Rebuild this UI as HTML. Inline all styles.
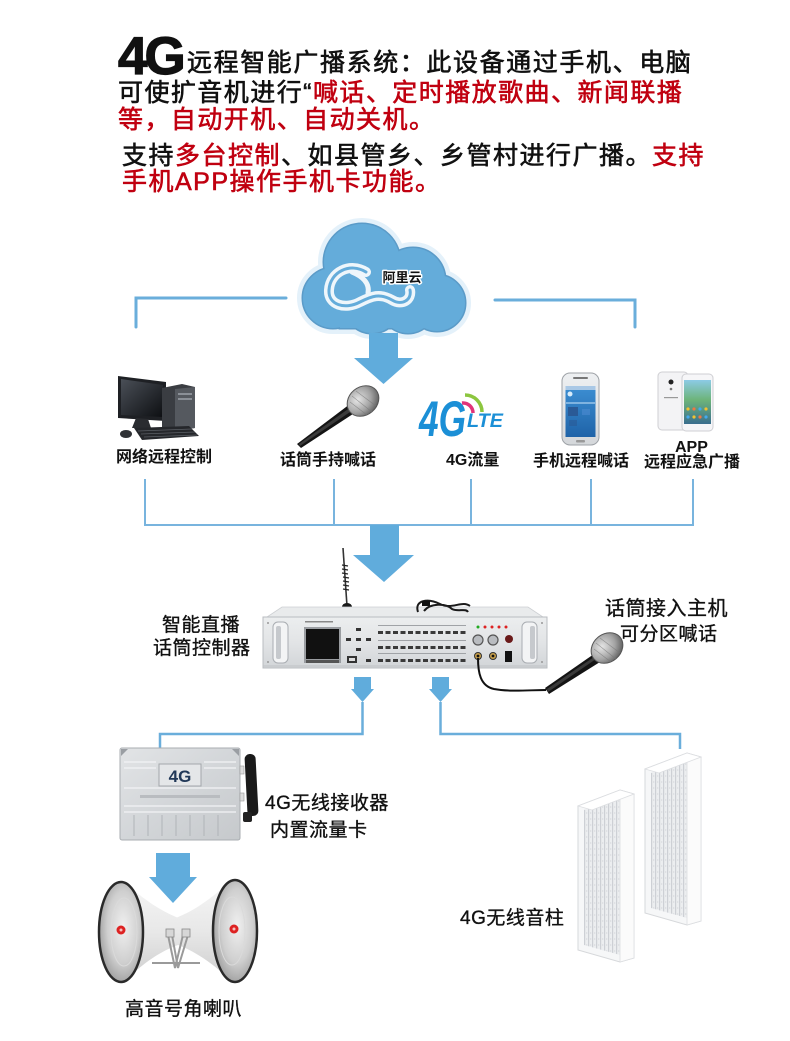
<!DOCTYPE html>
<html><head><meta charset="utf-8">
<style>
html,body{margin:0;padding:0;background:#fff;}
body{width:790px;height:1041px;position:relative;overflow:hidden;font-family:"Liberation Sans","Noto Sans CJK SC",sans-serif;}
.t{position:absolute;white-space:nowrap;color:#111;}
.top{font-size:25px;line-height:25px;-webkit-text-stroke:0.6px currentColor;}
.r{color:#c00010;}
.lb{font-size:16px;line-height:16px;font-weight:bold;color:#111;}
.md{font-size:19px;line-height:19px;letter-spacing:0.5px;color:#111;-webkit-text-stroke:0.35px #111;}
svg{position:absolute;left:0;top:0;}
</style></head><body>
<svg width="790" height="1041" viewBox="0 0 790 1041" xmlns="http://www.w3.org/2000/svg">
<defs>
  <linearGradient id="silver" x1="0" y1="0" x2="0" y2="1">
    <stop offset="0" stop-color="#eef0f2"/><stop offset="1" stop-color="#d4d7da"/>
  </linearGradient>
  <linearGradient id="panel" x1="0" y1="0" x2="0" y2="1">
    <stop offset="0" stop-color="#eceeef"/><stop offset="0.5" stop-color="#e2e4e6"/><stop offset="1" stop-color="#d2d5d8"/>
  </linearGradient>
  <linearGradient id="rcv" x1="0" y1="0" x2="1" y2="1">
    <stop offset="0" stop-color="#e2e4e6"/><stop offset="0.5" stop-color="#d3d6d9"/><stop offset="1" stop-color="#c6c9cc"/>
  </linearGradient>
  <linearGradient id="hornbody" x1="0" y1="0" x2="0" y2="1">
    <stop offset="0" stop-color="#f6f6f6"/><stop offset="0.5" stop-color="#e8e8e8"/><stop offset="1" stop-color="#cdcdcd"/>
  </linearGradient>
  <radialGradient id="mouthL" cx="0.55" cy="0.45" r="0.6">
    <stop offset="0" stop-color="#f0f0f0"/><stop offset="0.6" stop-color="#cfcfcf"/><stop offset="1" stop-color="#9a9a9a"/>
  </radialGradient>
  <radialGradient id="mhead" cx="0.4" cy="0.35" r="0.7">
    <stop offset="0" stop-color="#e6e6e6"/><stop offset="0.6" stop-color="#a3a3a3"/><stop offset="1" stop-color="#5c5c5c"/>
  </radialGradient>
  <linearGradient id="screen1" x1="0" y1="0" x2="0" y2="1">
    <stop offset="0" stop-color="#3d8fd3"/><stop offset="1" stop-color="#1f63a8"/>
  </linearGradient>
  <linearGradient id="screen2" x1="0" y1="0" x2="0" y2="1">
    <stop offset="0" stop-color="#8ccbe6"/><stop offset="0.45" stop-color="#6db47a"/><stop offset="1" stop-color="#3b6f8e"/>
  </linearGradient>
  <linearGradient id="mon" x1="0" y1="0" x2="1" y2="1">
    <stop offset="0" stop-color="#4a4f57"/><stop offset="1" stop-color="#0d0f12"/>
  </linearGradient>
  <pattern id="grill" width="4" height="6" patternUnits="userSpaceOnUse">
    <rect width="4" height="6" fill="#eceef0"/><rect x="0" width="1.2" height="6" fill="#cdd0d5"/><rect x="2.2" y="2" width="1" height="2" fill="#dcdee2"/>
  </pattern>
</defs>

<!-- cloud bracket lines -->
<g stroke="#6aaedb" stroke-width="3" fill="none" stroke-linecap="round">
  <polyline points="136,327 136,298 286,298"/>
  <polyline points="495,300 635,300 635,327"/>
</g>

<!-- cloud -->
<g>
  <g fill="#e4f1fa" stroke="#e4f1fa" stroke-width="12">
    <circle cx="362" cy="262" r="38"/><circle cx="413" cy="280" r="32"/><circle cx="333" cy="298" r="30"/>
    <circle cx="437" cy="303" r="28"/><circle cx="372" cy="305" r="28"/><circle cx="408" cy="306" r="27"/>
    <rect x="340" y="272" width="95" height="56"/>
  </g>
  <g fill="#5b9bc8" stroke="#5b9bc8" stroke-width="3">
    <circle cx="362" cy="262" r="38"/><circle cx="413" cy="280" r="32"/><circle cx="333" cy="298" r="30"/>
    <circle cx="437" cy="303" r="28"/><circle cx="372" cy="305" r="28"/><circle cx="408" cy="306" r="27"/>
    <rect x="340" y="272" width="95" height="56"/>
  </g>
  <g fill="#64acda">
    <circle cx="362" cy="262" r="38"/><circle cx="413" cy="280" r="32"/><circle cx="333" cy="298" r="30"/>
    <circle cx="437" cy="303" r="28"/><circle cx="372" cy="305" r="28"/><circle cx="408" cy="306" r="27"/>
    <rect x="340" y="272" width="95" height="56"/>
  </g>
  <!-- swirl logo -->
  <g fill="none" stroke-linecap="round">
    <path d="M366 272 C350 262 330 272 329 290 C328 305 345 310 360 302 C372 296 380 293 392 300 C402 306 412 300 410 290" stroke="#eef6fb" stroke-width="10"/>
    <path d="M366 272 C350 262 330 272 329 290 C328 305 345 310 360 302 C372 296 380 293 392 300 C402 306 412 300 410 290" stroke="#64acda" stroke-width="3"/>
    <path d="M352 272 C362 276 370 283 368 293" stroke="#eef6fb" stroke-width="5"/>
  </g>
  <text x="402" y="282" font-family="Liberation Sans, Noto Sans CJK SC, sans-serif" font-weight="bold" font-size="13" text-anchor="middle" fill="#111" stroke="#ffffff" stroke-width="3" paint-order="stroke" stroke-linejoin="round">阿里云</text>
</g>

<!-- arrow under cloud -->
<polygon points="369,333 398,333 398,358 413,358 383.5,384 354,358 369,358" fill="#60acdc"/>

<!-- computer -->
<g>
  <polygon points="118,376 166,382 166,421 118,418" fill="#1e2024"/>
  <polygon points="121,379 163,385 163,417 121,415" fill="url(#mon)"/>
  <polygon points="136,418 148,419 151,428 132,428" fill="#2a2c30"/>
  <polygon points="162,388 182,384 195,387 195,428 175,431 162,427" fill="#3a3d42"/>
  <polygon points="175,389 195,387 195,428 175,431" fill="#55595f"/>
  <rect x="178" y="393" width="14" height="2" fill="#8a8f96"/>
  <rect x="178" y="398" width="14" height="2" fill="#8a8f96"/>
  <polygon points="134,428 189,426 199,436 142,440" fill="#25272b"/>
  <g stroke="#5a5e64" stroke-width="0.7">
    <line x1="138" y1="431" x2="192" y2="429"/><line x1="141" y1="434" x2="195" y2="432"/><line x1="144" y1="437" x2="197" y2="435"/>
  </g>
  <ellipse cx="126" cy="434" rx="6" ry="4" fill="#2f3135"/>
</g>

<!-- mic 1 -->
<g>
  <polygon points="297,444 301,448 356,412 350,404" fill="#141414"/>
  <polygon points="299,444 351,407 353,410 300,446" fill="#3a3a3a"/>
  <ellipse cx="363" cy="401" rx="17" ry="14" transform="rotate(-40 363 401)" fill="url(#mhead)" stroke="#555" stroke-width="1"/>
  <g stroke="#777" stroke-width="0.6" opacity="0.7">
    <line x1="352" y1="396" x2="372" y2="412"/><line x1="356" y1="391" x2="376" y2="406"/><line x1="350" y1="402" x2="367" y2="415"/>
  </g>
</g>

<!-- 4G LTE -->
<g font-family="Liberation Sans, sans-serif" font-weight="bold" font-style="italic" fill="#1b8fd6">
  <text x="419" y="436" font-size="50" textLength="47" lengthAdjust="spacingAndGlyphs">4G</text>
  <text x="467" y="427" font-size="19" textLength="36" lengthAdjust="spacingAndGlyphs">LTE</text>
</g>
<path d="M462 403 A10 10 0 0 1 473 413" fill="none" stroke="#e0337a" stroke-width="3.5"/>
<path d="M465 395 A17 17 0 0 1 482 412" fill="none" stroke="#8cc63f" stroke-width="3.5"/>

<!-- phone 1 -->
<g>
  <rect x="562" y="373" width="37" height="72" rx="8" fill="url(#silver)" stroke="#9ea2a7" stroke-width="1"/>
  <rect x="573" y="377" width="15" height="2" rx="1" fill="#777"/>
  <rect x="565.5" y="386" width="30" height="51" fill="url(#screen1)"/>
  <rect x="565.5" y="386" width="30" height="4" fill="#a9c8e6"/>
  <circle cx="570" cy="394" r="2.5" fill="#d8ecfa"/>
  <rect x="566" y="402" width="29" height="2" fill="#7fb3e0"/>
  <rect x="568" y="407" width="10" height="9" fill="#2a5a96"/>
  <rect x="569" y="420" width="8" height="6" fill="#2a5a96" opacity="0.6"/>
  <rect x="582" y="409" width="8" height="6" fill="#4d8ad0" opacity="0.6"/>
  <rect x="576" y="440" width="9" height="2.5" rx="1" fill="#999"/>
</g>

<!-- phone 2 -->
<g>
  <rect x="658" y="372" width="30" height="58" rx="4" fill="#f3f3f5" stroke="#cfcfd3" stroke-width="1"/>
  <circle cx="671" cy="382" r="2.5" fill="#222"/>
  <circle cx="671" cy="389" r="1.3" fill="#777"/>
  <rect x="664" y="397" width="14" height="1.2" fill="#999"/>
  <rect x="682" y="374" width="31" height="57" rx="4" fill="#f6f6f8" stroke="#cfcfd3" stroke-width="1"/>
  <rect x="684" y="380" width="27" height="44" fill="url(#screen2)"/>
  <g fill="#f2c230"><circle cx="688" cy="409" r="1.6"/><circle cx="694" cy="409" r="1.6" fill="#e74"/><circle cx="700" cy="409" r="1.6" fill="#4ae"/><circle cx="706" cy="409" r="1.6"/>
  <circle cx="688" cy="417" r="1.6" fill="#4ae"/><circle cx="694" cy="417" r="1.6"/><circle cx="700" cy="417" r="1.6" fill="#e74"/><circle cx="706" cy="417" r="1.6" fill="#4ae"/></g>
</g>

<!-- device row connectors -->
<g stroke="#78b4de" stroke-width="2" fill="none">
  <line x1="145" y1="479" x2="145" y2="525"/>
  <line x1="334" y1="479" x2="334" y2="525"/>
  <line x1="471" y1="479" x2="471" y2="525"/>
  <line x1="591" y1="479" x2="591" y2="525"/>
  <line x1="693" y1="479" x2="693" y2="525"/>
  <line x1="144" y1="525" x2="694" y2="525"/>
</g>
<polygon points="370,525 399,525 399,555 414,555 384,582 353,555 370,555" fill="#60acdc"/>

<!-- controller -->
<g>
  <line x1="343" y1="548" x2="347" y2="606" stroke="#333" stroke-width="1.6"/>
  <g stroke="#222" stroke-width="1.3">
    <line x1="342" y1="565" x2="348" y2="566"/><line x1="342" y1="569" x2="348" y2="570"/><line x1="342" y1="573" x2="348" y2="574"/>
    <line x1="343" y1="577" x2="349" y2="578"/><line x1="343" y1="581" x2="349" y2="582"/><line x1="343" y1="585" x2="349" y2="586"/><line x1="343" y1="589" x2="349" y2="590"/>
  </g>
  <ellipse cx="347" cy="607" rx="5" ry="4" fill="#1a1a1a"/>
  <polygon points="282,607 528,607 543,617 267,617" fill="#e9ebec" stroke="#cdd0d3" stroke-width="0.8"/>
  <path d="M418 612 C414 600 428 598 440 604 C452 610 462 600 470 606 M424 611 C430 603 446 603 452 609 C458 612 466 608 468 612" fill="none" stroke="#1a1a1a" stroke-width="2"/>
  <rect x="422" y="601" width="8" height="5" fill="#111"/>
  <rect x="263" y="617" width="284" height="51" fill="url(#panel)" stroke="#b9bcc0" stroke-width="1"/>
  <line x1="263" y1="666" x2="547" y2="666" stroke="#bfc2c5" stroke-width="1"/>
  <rect x="273" y="622" width="15" height="41" rx="5" fill="#f3f4f5" stroke="#a9adb2" stroke-width="1"/>
  <rect x="276" y="626" width="5" height="33" rx="2" fill="#c6c9cd"/>
  <rect x="522" y="622" width="15" height="41" rx="5" fill="#f3f4f5" stroke="#a9adb2" stroke-width="1"/>
  <rect x="530" y="626" width="5" height="33" rx="2" fill="#c6c9cd"/>
  <circle cx="268" cy="623" r="1" fill="#999"/><circle cx="268" cy="662" r="1" fill="#999"/>
  <circle cx="542" cy="623" r="1" fill="#999"/><circle cx="542" cy="662" r="1" fill="#999"/>
  <rect x="304" y="627" width="37" height="36" fill="#9a9da1"/>
  <rect x="306" y="629" width="33" height="30" fill="#111"/>
  <rect x="306" y="660" width="33" height="3" fill="#555"/>
  <rect x="305" y="621" width="28" height="1.5" fill="#888"/>
  <g fill="#333">
    <rect x="356" y="628" width="5" height="3"/><rect x="346" y="638" width="5" height="3"/><rect x="356" y="638" width="5" height="3"/>
    <rect x="366" y="638" width="5" height="3"/><rect x="356" y="648" width="5" height="3"/><rect x="366" y="659" width="5" height="3"/>
  </g>
  <rect x="347" y="656" width="10" height="7" fill="#333"/><rect x="349" y="658" width="6" height="3" fill="#ddd"/>
  <g fill="#3a3a3a">
    <rect x="378" y="631" width="5" height="3"/><rect x="385.5" y="631" width="5" height="3"/><rect x="393" y="631" width="5" height="3"/><rect x="400.5" y="631" width="5" height="3"/><rect x="408" y="631" width="5" height="3"/><rect x="415.5" y="631" width="5" height="3"/><rect x="423" y="631" width="5" height="3"/><rect x="430.5" y="631" width="5" height="3"/><rect x="438" y="631" width="5" height="3"/><rect x="445.5" y="631" width="5" height="3"/><rect x="453" y="631" width="5" height="3"/><rect x="460.5" y="631" width="5" height="3"/>
    <rect x="378" y="646" width="5" height="3"/><rect x="385.5" y="646" width="5" height="3"/><rect x="393" y="646" width="5" height="3"/><rect x="400.5" y="646" width="5" height="3"/><rect x="408" y="646" width="5" height="3"/><rect x="415.5" y="646" width="5" height="3"/><rect x="423" y="646" width="5" height="3"/><rect x="430.5" y="646" width="5" height="3"/><rect x="438" y="646" width="5" height="3"/><rect x="445.5" y="646" width="5" height="3"/><rect x="453" y="646" width="5" height="3"/><rect x="460.5" y="646" width="5" height="3"/>
    <rect x="378" y="659" width="5" height="3"/><rect x="385.5" y="659" width="5" height="3"/><rect x="393" y="659" width="5" height="3"/><rect x="400.5" y="659" width="5" height="3"/><rect x="408" y="659" width="5" height="3"/><rect x="415.5" y="659" width="5" height="3"/><rect x="423" y="659" width="5" height="3"/><rect x="430.5" y="659" width="5" height="3"/><rect x="438" y="659" width="5" height="3"/><rect x="445.5" y="659" width="5" height="3"/><rect x="453" y="659" width="5" height="3"/><rect x="460.5" y="659" width="5" height="3"/>
  </g>
  <g fill="#a0a3a7">
    <rect x="378" y="625" width="88" height="1"/><rect x="378" y="640" width="88" height="1"/><rect x="378" y="653" width="88" height="1"/>
  </g>
  <circle cx="478" cy="627" r="1.5" fill="#2a2"/>
  <circle cx="485" cy="627" r="1.5" fill="#d22"/><circle cx="492" cy="627" r="1.5" fill="#d22"/><circle cx="499" cy="627" r="1.5" fill="#d22"/><circle cx="506" cy="627" r="1.5" fill="#d22"/>
  <circle cx="478" cy="640" r="5" fill="#b9bcc0" stroke="#555" stroke-width="1.2"/>
  <circle cx="493" cy="640" r="5" fill="#b9bcc0" stroke="#555" stroke-width="1.2"/>
  <circle cx="509" cy="639" r="4" fill="#6a1a1a"/>
  <circle cx="478" cy="656" r="3.5" fill="#c9a04a" stroke="#333" stroke-width="1"/><circle cx="478" cy="656" r="1.4" fill="#111"/>
  <circle cx="493" cy="656" r="3.5" fill="#c9a04a" stroke="#333" stroke-width="1"/><circle cx="493" cy="656" r="1.4" fill="#111"/>
  <rect x="505" y="651" width="7" height="11" fill="#111"/>
  <path d="M478 658 C478 672 480 686 494 689 C510 692 530 690 546 690" fill="none" stroke="#111" stroke-width="2"/>
</g>

<!-- mic 2 -->
<g>
  <polygon points="545,688 549,694 600,662 594,654" fill="#141414"/>
  <polygon points="547,689 594,657 596,659 548,692" fill="#3a3a3a"/>
  <ellipse cx="607" cy="648" rx="17" ry="14" transform="rotate(-40 607 648)" fill="url(#mhead)" stroke="#555" stroke-width="1"/>
  <g stroke="#777" stroke-width="0.6" opacity="0.7">
    <line x1="596" y1="643" x2="616" y2="659"/><line x1="600" y1="638" x2="620" y2="653"/><line x1="594" y1="649" x2="611" y2="662"/>
  </g>
</g>

<!-- small arrows + lower connectors -->
<polygon points="354,677 371,677 371,689 374,689 362.5,702 351,689 354,689" fill="#60acdc"/>
<polygon points="432,677 449,677 449,689 452,689 440.5,702 429,689 432,689" fill="#60acdc"/>
<g stroke="#6aaedb" stroke-width="2.5" fill="none">
  <polyline points="362.5,702 362.5,734 160,734 160,749"/>
  <polyline points="440.5,702 440.5,734 680,734 680,749"/>
</g>

<!-- receiver -->
<g>
  <rect x="120" y="748" width="120" height="92" rx="2" fill="url(#rcv)" stroke="#a9adb1" stroke-width="1"/>
  <g stroke="#f2f3f5" stroke-width="1.2">
    <line x1="124" y1="762" x2="156" y2="762"/><line x1="204" y1="762" x2="236" y2="762"/>
    <line x1="124" y1="768" x2="156" y2="768"/><line x1="204" y1="768" x2="236" y2="768"/>
    <line x1="124" y1="788" x2="236" y2="788"/><line x1="124" y1="806" x2="236" y2="806"/><line x1="124" y1="812" x2="236" y2="812"/>
  </g>
  <g stroke="#b0b4b8" stroke-width="1">
    <line x1="134" y1="815" x2="134" y2="836"/><line x1="148" y1="815" x2="148" y2="836"/><line x1="162" y1="815" x2="162" y2="836"/>
    <line x1="176" y1="815" x2="176" y2="836"/><line x1="190" y1="815" x2="190" y2="836"/><line x1="204" y1="815" x2="204" y2="836"/><line x1="218" y1="815" x2="218" y2="836"/>
  </g>
  <rect x="159" y="764" width="42" height="22" fill="#e4e6e8" stroke="#a3a7ab" stroke-width="1"/>
  <text x="180" y="782" font-family="Liberation Sans, sans-serif" font-weight="bold" font-size="17" fill="#213858" text-anchor="middle">4G</text>
  <rect x="140" y="795" width="80" height="3" fill="#b9bcc0"/>
  <polygon points="121,749 128,749 121,756" fill="#9a9ea3"/><polygon points="239,749 232,749 239,756" fill="#9a9ea3"/>
  <rect x="240" y="766" width="4" height="8" fill="#ddd" stroke="#999" stroke-width="0.6"/>
  <rect x="240" y="793" width="4" height="8" fill="#ddd" stroke="#999" stroke-width="0.6"/>
  <rect x="246" y="754" width="11" height="62" rx="5" fill="#1a1a1a" transform="rotate(-3 251 785)"/>
  <rect x="243" y="812" width="9" height="10" rx="2" fill="#222"/>
</g>

<!-- arrow to horns -->
<polygon points="156,853 190,853 190,877 197,877 173,903 149,877 156,877" fill="#60acdc"/>

<!-- horns -->
<g>
  <path d="M232 880 C215 895 195 912 170 920 L170 942 C195 950 215 965 232 982 Z" fill="url(#hornbody)"/>
  <path d="M124 882 C140 896 160 912 184 920 L184 943 C160 950 140 966 124 982 Z" fill="url(#hornbody)"/>
  <g stroke="#9a9a9a" stroke-width="2" fill="none">
    <polyline points="168,935 175,968 183,935"/>
    <polyline points="172,935 178,968 188,935"/>
    <line x1="152" y1="963" x2="200" y2="963"/>
  </g>
  <rect x="166" y="929" width="8" height="8" fill="#d7d7d7" stroke="#888" stroke-width="0.8"/>
  <rect x="182" y="929" width="8" height="8" fill="#d7d7d7" stroke="#888" stroke-width="0.8"/>
  <ellipse cx="121" cy="932" rx="22" ry="50" fill="url(#mouthL)" stroke="#2a2a2a" stroke-width="2.5"/>
  <ellipse cx="124" cy="932" rx="13" ry="34" fill="none" stroke="#dadada" stroke-width="1"/>
  <circle cx="121" cy="930" r="4.5" fill="#d22"/><circle cx="121" cy="930" r="1.5" fill="#f5c0c0"/>
  <ellipse cx="235" cy="931" rx="22" ry="51" fill="url(#mouthL)" stroke="#2a2a2a" stroke-width="2.5"/>
  <ellipse cx="232" cy="931" rx="13" ry="34" fill="none" stroke="#dadada" stroke-width="1"/>
  <circle cx="234" cy="929" r="4.5" fill="#d22"/><circle cx="234" cy="929" r="1.5" fill="#f5c0c0"/>
</g>

<!-- speakers (back one first) -->
<g transform="translate(67,-37)">
  <polygon points="578,806 620,790 634,794 634,958 620,962 578,950" fill="#f6f7f8" stroke="#d6d8db" stroke-width="1"/>
  <polygon points="584,810 620,798 620,955 584,945" fill="url(#grill)"/>
  <polygon points="620,790 634,794 634,958 620,962" fill="#fbfbfb" stroke="#dcdee1" stroke-width="0.8"/>
  <polygon points="578,806 620,790 634,794 592,810" fill="#ffffff" stroke="#dcdee1" stroke-width="0.8"/>
</g>
<g>
  <polygon points="578,806 620,790 634,794 634,958 620,962 578,950" fill="#f6f7f8" stroke="#d6d8db" stroke-width="1"/>
  <polygon points="584,810 620,798 620,955 584,945" fill="url(#grill)"/>
  <polygon points="620,790 634,794 634,958 620,962" fill="#fbfbfb" stroke="#dcdee1" stroke-width="0.8"/>
  <polygon points="578,806 620,790 634,794 592,810" fill="#ffffff" stroke="#dcdee1" stroke-width="0.8"/>
</g>
</svg>

<!-- title text -->
<div class="t" style="left:118px;top:30px;font-size:53px;line-height:53px;font-weight:bold;letter-spacing:-3px;-webkit-text-stroke:1.2px #111;">4G</div>
<div class="t top" style="left:187px;top:51px;letter-spacing:1.6px;">远程智能广播系统：此设备通过手机、电脑</div>
<div class="t top" style="left:118px;top:81px;letter-spacing:1.45px;">可使扩音机进行“<span class="r">喊话、定时播放歌曲、新闻联播</span></div>
<div class="t top r" style="left:118px;top:108px;letter-spacing:1.45px;">等，自动开机、自动关机。</div>
<div class="t top" style="left:122px;top:144px;letter-spacing:1.5px;">支持<span class="r">多台控制</span>、如县管乡、乡管村进行广播。<span class="r">支持</span></div>
<div class="t top r" style="left:122px;top:170px;letter-spacing:1.5px;">手机APP操作手机卡功能。</div>

<!-- device labels -->
<div class="t lb" style="left:116px;top:450px;">网络远程控制</div>
<div class="t lb" style="left:280px;top:453px;">话筒手持喊话</div>
<div class="t lb" style="left:446px;top:453px;">4G流量</div>
<div class="t lb" style="left:533px;top:454px;">手机远程喊话</div>
<div class="t lb" style="left:675px;top:440px;">APP</div>
<div class="t lb" style="left:644px;top:455px;">远程应急广播</div>

<!-- other labels -->
<div class="t md" style="left:162px;top:616px;">智能直播</div>
<div class="t md" style="left:153px;top:639px;">话筒控制器</div>
<div class="t md" style="left:605px;top:599px;font-size:20px;line-height:20px;">话筒接入主机</div>
<div class="t md" style="left:620px;top:625px;">可分区喊话</div>
<div class="t md" style="left:265px;top:794px;">4G无线接收器</div>
<div class="t md" style="left:270px;top:821px;">内置流量卡</div>
<div class="t md" style="left:460px;top:909px;">4G无线音柱</div>
<div class="t md" style="left:125px;top:1000px;">高音号角喇叭</div>
</body></html>
